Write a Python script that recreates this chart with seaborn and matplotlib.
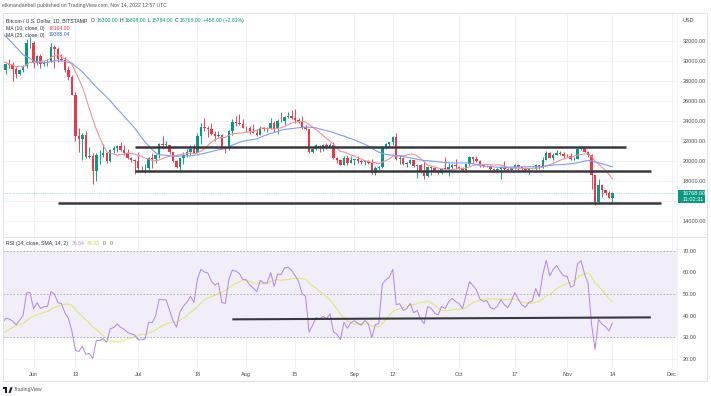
import numpy as np
import pandas as pd
import matplotlib
matplotlib.use("Agg")
import matplotlib.pyplot as plt
import matplotlib.patches as patches
from matplotlib.lines import Line2D
import seaborn as sns

# daily closes, BTC/USD Bitstamp, Apr 1 - Nov 14 2022
# (Apr 1 - May 22 only feed the MA / RSI warm-up, chart shows May 23 on)
closes_apr = [46290, 45850, 46410, 46580, 45500, 43170, 43440, 42250, 42760, 42160,
              39520, 40080, 41150, 39940, 40550, 40390, 39680, 40800, 41500, 41370,
              40480, 39710, 39470, 39450, 40440, 38120, 39240, 39740, 38600, 37630]
closes_may = [38470, 38520, 37710, 39690, 36550, 36010, 35470, 34060, 30080, 31010,
              28940, 29030, 29280, 30080, 31330, 29850, 30430, 28700, 30310, 29190,
              29430, 30290, 29100, 29650, 29540, 29200, 28630, 29030, 29450, 31730, 31800]
closes_jun = [29800, 30450, 29700, 29860, 29900, 31370, 31130, 30200, 30110, 29080,
              28400, 26580, 22480, 22130, 22580, 20380, 20450, 19010, 20560, 20570,
              20720, 19970, 21100, 21230, 21500, 21030, 20730, 20280, 20100, 19930]
closes_jul = [19290, 19250, 19300, 20230, 20190, 20550, 21630, 21590, 21590, 20850,
              19960, 19330, 20220, 20580, 20830, 21190, 20780, 22480, 23390, 23230,
              23160, 22680, 22450, 22580, 21310, 21250, 22950, 23850, 23780, 23650, 23300]
closes_aug = [23270, 22980, 22820, 22620, 23310, 23180, 23180, 23810, 23160, 23960,
              23930, 24400, 24440, 24310, 24100, 23860, 23340, 23210, 20830, 21140,
              21520, 21400, 21530, 21370, 21570, 20260, 20040, 19550, 20290, 19800, 20050]
closes_sep = [20130, 19950, 19830, 20000, 19800, 18790, 19290, 19320, 21360, 21650,
              21830, 22400, 20170, 20230, 19700, 19800, 20110, 19420, 19540, 18880,
              18480, 19400, 19290, 18920, 18800, 19220, 19080, 19410, 19590, 19420]
closes_oct = [19310, 19060, 19630, 20330, 20160, 19960, 19530, 19420, 19450, 19130,
              19060, 19160, 19380, 19180, 19070, 19270, 19550, 19330, 19120, 19040,
              19170, 19210, 19570, 19330, 20090, 20770, 20290, 20600, 20810, 20630, 20490]
closes_nov = [20480, 20150, 20210, 21150, 21300, 20900, 20600, 18540, 15880, 17590,
              17060, 16810, 16300, 16768]

# highs / lows for the visible candles, May 23 - Nov 14
highs_may = [30650, 29820, 30200, 29850, 29380, 29200, 29560, 32200, 32380]
lows_may = [28900, 28670, 29300, 28020, 28280, 28550, 28850, 29300, 31230]
highs_jun = [31970, 30620, 30670, 29950, 30150, 31750, 31550, 31330, 30680, 30330,
             29450, 28560, 26880, 23300, 22750, 22970, 21350, 20780, 20800, 21060,
             21690, 20860, 21200, 21500, 21580, 21850, 21520, 21180, 20400, 20170]
lows_jun = [29320, 29600, 29270, 29500, 29500, 29870, 29250, 29850, 29950, 28860,
            28100, 26560, 21950, 20850, 20080, 20240, 20260, 17620, 17950, 19650,
            20350, 19780, 19900, 20740, 20910, 21000, 20530, 20200, 19850, 18630]
highs_jul = [20870, 19420, 19650, 20320, 20720, 20650, 21800, 22500, 21950, 21600,
             20860, 20040, 20250, 20880, 21200, 21580, 21650, 22720, 23750, 24280,
             23420, 23750, 22980, 22980, 22640, 21330, 23080, 24180, 24440, 24650, 24180]
lows_jul = [19000, 18980, 18790, 19050, 19300, 19760, 20250, 21200, 21320, 20650,
            19890, 19250, 18900, 19650, 20400, 20520, 20760, 20760, 21680, 22920,
            22400, 22550, 21970, 22300, 21260, 20720, 21050, 22600, 23420, 23520, 23250]
highs_aug = [23460, 23450, 23650, 23200, 23440, 23340, 23380, 24230, 23930, 24170,
             24900, 24450, 24870, 25050, 25180, 24230, 24450, 23600, 23210, 21350,
             21670, 21560, 21660, 21780, 21810, 21880, 20350, 20150, 20420, 20560, 20490]
lows_aug = [22860, 22680, 22730, 22440, 22590, 22930, 22860, 23150, 22880, 22690,
            23900, 23600, 24290, 24160, 23800, 23720, 23200, 23100, 20790, 20810,
            21080, 20900, 20920, 21150, 21320, 20120, 19810, 19520, 19580, 19540, 19760]
highs_sep = [20200, 20440, 20050, 20050, 20040, 20180, 19450, 19430, 21450, 21790,
             21850, 22500, 22790, 20520, 20320, 19900, 20180, 20100, 19680, 19640,
             19950, 19500, 19500, 19320, 19180, 19300, 20340, 19770, 19620, 20180]
lows_sep = [19580, 19760, 19660, 19610, 19640, 18700, 18540, 19030, 19300, 21120,
            21380, 21600, 20050, 19620, 19550, 19330, 19700, 19350, 18250, 18800,
            18150, 18380, 18600, 18850, 18660, 18680, 18820, 18510, 18860, 19180]
highs_oct = [19480, 19400, 19700, 20460, 20360, 20440, 20060, 19600, 19530, 19530,
             19250, 19220, 19500, 19950, 19230, 19380, 19670, 19700, 19360, 19340,
             19250, 19250, 19680, 19600, 20400, 21000, 20870, 20750, 21080, 20930, 20840]
lows_oct = [19180, 18960, 18980, 19500, 19760, 19870, 19350, 19320, 19320, 19030,
            18880, 19000, 18200, 19080, 18980, 19060, 19170, 19100, 19080, 18920,
            18660, 19120, 19080, 19170, 19250, 20060, 20220, 20020, 20560, 20530, 20240]
highs_nov = [20700, 20790, 20380, 21280, 21480, 21360, 20990, 20690, 18590, 18130,
             17650, 17080, 16950, 16898]
lows_nov = [20370, 20050, 20060, 20180, 21080, 20880, 20400, 17170, 15600, 15800,
            16370, 16600, 16260, 15784]
first_open = 30290

# hand-drawn lines: (start, end, level)
price_lines = [("2022-06-30", "2022-11-18", 21380),
               ("2022-06-30", "2022-11-25", 18970),
               ("2022-06-08", "2022-11-28", 15770)]
rsi_line = ("2022-07-28", "2022-11-25", 38.3, 39.2)
last_price = 16768

tick_dates = ["2022-06-01", "2022-06-13", "2022-07-01", "2022-07-18", "2022-08-01",
              "2022-08-15", "2022-09-01", "2022-09-12", "2022-10-01", "2022-10-17",
              "2022-11-01", "2022-11-14", "2022-12-01"]
tick_labels = ["Jun", "13", "Jul", "18", "Aug", "15", "Sep", "12", "Oct", "17",
               "Nov", "14", "Dec"]
price_ticks = [14000, 16000, 18000, 20000, 22000, 24000, 26000, 28000, 30000, 32000]
rsi_ticks = [20, 30, 40, 50, 60, 70]

UP, DOWN = "#089981", "#f23645"

closes = (closes_apr + closes_may + closes_jun + closes_jul + closes_aug
          + closes_sep + closes_oct + closes_nov)
df = pd.DataFrame({"date": pd.date_range("2022-04-01", periods=len(closes), freq="D"),
                   "close": closes})
df["open"] = df["close"].shift(1)
df["ma10"] = df["close"].rolling(10).mean()
df["ma25"] = df["close"].rolling(25).mean()
delta = df["close"].diff()
gain = delta.clip(lower=0).ewm(alpha=1 / 14, adjust=False).mean()
loss = (-delta.clip(upper=0)).ewm(alpha=1 / 14, adjust=False).mean()
df["rsi"] = 100 - 100 / (1 + gain / loss)
df["rsi_ma"] = df["rsi"].rolling(14).mean()

vis = df[df["date"] >= "2022-05-23"].reset_index(drop=True).copy()
vis.loc[0, "open"] = first_open
vis["high"] = highs_may + highs_jun + highs_jul + highs_aug + highs_sep + highs_oct + highs_nov
vis["low"] = lows_may + lows_jun + lows_jul + lows_aug + lows_sep + lows_oct + lows_nov

sns.set_theme(style="white")
plt.rcParams["font.family"] = ["Liberation Sans", "DejaVu Sans"]

W, H = 711, 396
fx = lambda px: px / W
fy = lambda py: 1 - py / H
L, R, TOP, SEP, BOT, FRAME_R, FRAME_B = 3, 677, 12.5, 236.7, 368, 707, 381
FS = 4.0      # axis labels
HFS = 3.7     # header / legend text
GRID = "#eef0f5"

fig = plt.figure(figsize=(7.11, 3.96), dpi=100)
fig.patch.set_facecolor("white")
ax1 = fig.add_axes([fx(L), fy(SEP), (R - L) / W, (SEP - TOP) / H])
ax2 = fig.add_axes([fx(L), fy(BOT), (R - L) / W, (BOT - SEP) / H], sharex=ax1)

jun1 = pd.Timestamp("2022-06-01")
ax1.set_xlim(jun1 - pd.Timedelta(days=8.75), jun1 + pd.Timedelta(days=184.5))

# candles
colors = np.where(vis["close"] >= vis["open"], UP, DOWN)
ax1.vlines(vis["date"], vis["low"], vis["high"], colors=colors, lw=0.65, zorder=2)
body = (vis["close"] - vis["open"]).abs().clip(lower=35)
ax1.bar(vis["date"], body, bottom=np.minimum(vis["open"], vis["close"]),
        width=0.7, color=colors, linewidth=0, zorder=3)

sns.lineplot(data=vis, x="date", y="ma10", ax=ax1, color="#f58f97", lw=0.8, zorder=4)
sns.lineplot(data=vis, x="date", y="ma25", ax=ax1, color="#7f9cf5", lw=0.8, zorder=4)

for start, end, level in price_lines:
    ax1.plot([pd.Timestamp(start), pd.Timestamp(end)], [level, level],
             color="#38383f", lw=1.8, solid_capstyle="butt", zorder=6)
ax1.axhline(last_price, color=UP, lw=0.5, ls=(0, (1, 1.6)), alpha=0.6, zorder=1)

ax1.set_ylim(12400, 34820)
ax1.set_yticks(price_ticks)
ax1.set_yticklabels(["" if t == 16000 else f"{t}.00" for t in price_ticks])
ax1.yaxis.tick_right()
ax1.tick_params(axis="y", length=0, pad=4.3, labelsize=FS, labelcolor="#4a4a4a")
ax1.tick_params(axis="x", length=0, labelbottom=False)
ax1.grid(True, color=GRID, lw=0.6, zorder=0)
ax1.set_axisbelow(True)
ax1.set_xlabel("")
ax1.set_ylabel("")

# RSI pane
ax2.axhspan(30, 70, color="#f1edf9", lw=0, zorder=0)
for lv in (30, 50, 70):
    ax2.axhline(lv, color="#aaa4b4", lw=0.6, ls=(0, (2, 2)), zorder=1)
sns.lineplot(data=vis, x="date", y="rsi_ma", ax=ax2, color="#e0e860", lw=0.7, zorder=3)
sns.lineplot(data=vis, x="date", y="rsi", ax=ax2, color="#b384e6", lw=0.7, zorder=4)
ax2.plot([pd.Timestamp(rsi_line[0]), pd.Timestamp(rsi_line[1])], [rsi_line[2], rsi_line[3]],
         color="#38383f", lw=1.5, solid_capstyle="butt", zorder=6)
ax2.set_ylim(15.82, 76.47)
ax2.set_yticks(rsi_ticks)
ax2.set_yticklabels([f"{t}.00" for t in rsi_ticks])
ax2.yaxis.tick_right()
ax2.tick_params(axis="y", length=0, pad=4.3, labelsize=FS, labelcolor="#4a4a4a")
ax2.set_xticks([pd.Timestamp(d) for d in tick_dates])
ax2.set_xticklabels(tick_labels)
ax2.tick_params(axis="x", length=0, pad=3, labelsize=FS, labelcolor="#4a4a4a")
ax2.grid(True, color=GRID, lw=0.6, zorder=0)
ax2.set_axisbelow(True)
ax2.set_xlabel("")
ax2.set_ylabel("")

for ax in (ax1, ax2):
    for sp in ax.spines.values():
        sp.set_visible(False)

# frame and pane separators
fig.patches.append(patches.Rectangle((fx(L), fy(FRAME_B)), (FRAME_R - L) / W,
                                     (FRAME_B - TOP) / H, transform=fig.transFigure,
                                     fill=False, ec="#dfe2ea", lw=0.7))
fig.lines.append(Line2D([fx(L), fx(FRAME_R)], [fy(SEP), fy(SEP)],
                        transform=fig.transFigure, color="#dfe2ea", lw=0.7))
fig.lines.append(Line2D([fx(R), fx(R)], [fy(TOP), fy(FRAME_B)],
                        transform=fig.transFigure, color="#eef0f5", lw=0.5))

# last price tag
fig.patches.append(patches.Rectangle((fx(677.5), fy(202.7)), 27.5 / W, 12.7 / H,
                                     transform=fig.transFigure, color=UP, lw=0))
fig.text(fx(682.5), fy(193.3), f"{last_price}.00", color="white", fontsize=FS, va="center")
fig.text(fx(682.5), fy(199.5), "11:02:31", color="white", fontsize=FS, va="center")
fig.text(fx(683), fy(20.5), "USD", color="#4a4a4a", fontsize=FS, va="center")

renderer = fig.canvas.get_renderer()


def runs(x, y, parts):
    for px, text, color in parts:
        if px is not None:
            x = max(x, px)
        t = fig.text(fx(x), fy(y), text, color=color, fontsize=HFS, va="center")
        x += t.get_window_extent(renderer).width + 1.5


DARK, GRAY = "#2a2e39", "#555555"
fig.text(fx(2), fy(6), "elkmandanbell published on TradingView.com, Nov 14, 2022 12:57 UTC",
         color=GRAY, fontsize=HFS, va="center")
runs(6, 20.7, [(None, "Bitcoin / U.S. Dollar, 1D, BITSTAMP", DARK),
               (90.7, "O", DARK), (None, "16300.00", UP),
               (118, "H", DARK), (None, "16898.00", UP),
               (147, "L", DARK), (None, "15784.00", UP),
               (174, "C", DARK), (None, "16768.00", UP),
               (202, "+458.00 (+2.81%)", UP)])
runs(6, 28.3, [(None, "MA (10, close, 0)", DARK), (49, "18164.90", "#f23645")])
runs(6, 35, [(None, "MA (25, close, 0)", DARK), (49, "19385.04", "#2962ff")])
runs(6, 243.5, [(None, "RSI (14, close, SMA, 14, 2)", DARK), (72, "36.54", "#b384e6"),
                (87, "46.33", "#c9d33c"), (103, "0", GRAY), (110, "0", GRAY)])

# TradingView mark
fig.patches.append(patches.Rectangle((fx(3), fy(389)), 4 / W, 1.8 / H,
                                     transform=fig.transFigure, color="#131722", lw=0))
fig.patches.append(patches.Rectangle((fx(5), fy(393)), 2 / W, 5.8 / H,
                                     transform=fig.transFigure, color="#131722", lw=0))
fig.patches.append(patches.Polygon([(fx(8.5), fy(393)), (fx(10.5), fy(387.2)),
                                    (fx(12.5), fy(387.2)), (fx(10.5), fy(393))],
                                   transform=fig.transFigure, color="#131722", lw=0))
fig.text(fx(14), fy(390), "TradingView", color=GRAY, fontsize=HFS, va="center")

fig.savefig("out.png", dpi=100)
